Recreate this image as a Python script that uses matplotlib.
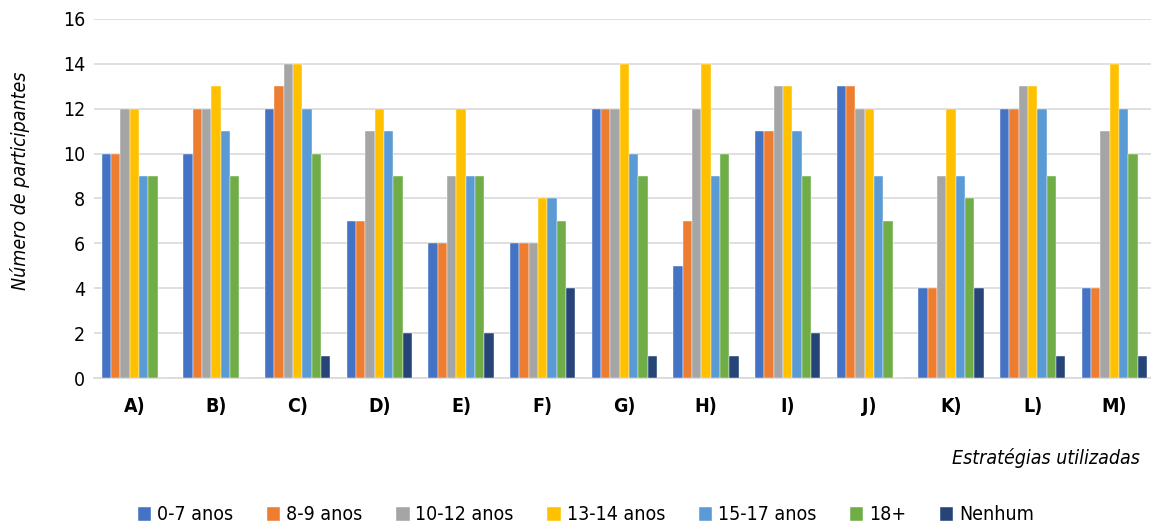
import matplotlib
matplotlib.use("Agg")
import matplotlib.pyplot as plt
import numpy as np

plt.rcParams["font.family"] = ["DejaVu Sans"]
plt.rcParams["font.stretch"] = "condensed"

categories = ["A)", "B)", "C)", "D)", "E)", "F)", "G)", "H)", "I)", "J)", "K)", "L)", "M)"]
series_names = ["0-7 anos", "8-9 anos", "10-12 anos", "13-14 anos", "15-17 anos", "18+", "Nenhum"]
anos_0_7 = [10, 10, 12, 7, 6, 6, 12, 5, 11, 13, 4, 12, 4]
anos_8_9 = [10, 12, 13, 7, 6, 6, 12, 7, 11, 13, 4, 12, 4]
anos_10_12 = [12, 12, 14, 11, 9, 6, 12, 12, 13, 12, 9, 13, 11]
anos_13_14 = [12, 13, 14, 12, 12, 8, 14, 14, 13, 12, 12, 13, 14]
anos_15_17 = [9, 11, 12, 11, 9, 8, 10, 9, 11, 9, 9, 12, 12]
anos_18 = [9, 9, 10, 9, 9, 7, 9, 10, 9, 7, 8, 9, 10]
nenhum = [0, 0, 1, 2, 2, 4, 1, 1, 2, 0, 4, 1, 1]
series = [anos_0_7, anos_8_9, anos_10_12, anos_13_14, anos_15_17, anos_18, nenhum]
colors = ["#4472C4", "#ED7D31", "#A5A5A5", "#FFC000", "#5B9BD5", "#70AD47", "#264478"]

fig = plt.figure(figsize=(11.51, 5.27), dpi=100)
ax = fig.add_axes([0.0813, 0.2827, 0.9187, 0.6813])

x = np.arange(len(categories))
n = len(series)
bw = 0.80 / n
for i, (vals, name, c) in enumerate(zip(series, series_names, colors)):
    ax.bar(x + (i - (n - 1) / 2) * bw, vals, width=bw, color=c, label=name,
           edgecolor="white", linewidth=0.3, zorder=3)

ax.set_xlim(-0.5, 12.45)
ax.set_ylim(0, 16)
ax.set_yticks(range(0, 17, 2))
ax.yaxis.grid(True, color="#d9d9d9", linewidth=1.2, zorder=0)
ax.set_axisbelow(True)
for s in ["top", "right", "left"]:
    ax.spines[s].set_visible(False)
ax.spines["bottom"].set_color("#d9d9d9")
ax.spines["bottom"].set_linewidth(1.2)
ax.tick_params(axis="both", length=0, labelsize=14)
ax.tick_params(axis="y", pad=6)
ax.tick_params(axis="x", pad=14)
ax.set_xticks(x)
ax.set_xticklabels(categories, fontweight="bold", fontsize=14)

ax.set_ylabel("Número de participantes", fontstyle="italic", fontsize=14)
ax.yaxis.set_label_coords(-0.06, 0.55)
fig.text(0.99, 1 - 458 / 527, "Estratégias utilizadas", fontstyle="italic", fontsize=14,
         ha="right", va="center")

handles, labels = ax.get_legend_handles_labels()
fig.legend(handles, labels, loc="center", bbox_to_anchor=(586 / 1151, 1 - 515 / 527),
           ncol=7, frameon=False, fontsize=14,
           handlelength=0.7, handleheight=0.7, handletextpad=0.3, columnspacing=1.72)

fig.savefig("out.png", dpi=100)
